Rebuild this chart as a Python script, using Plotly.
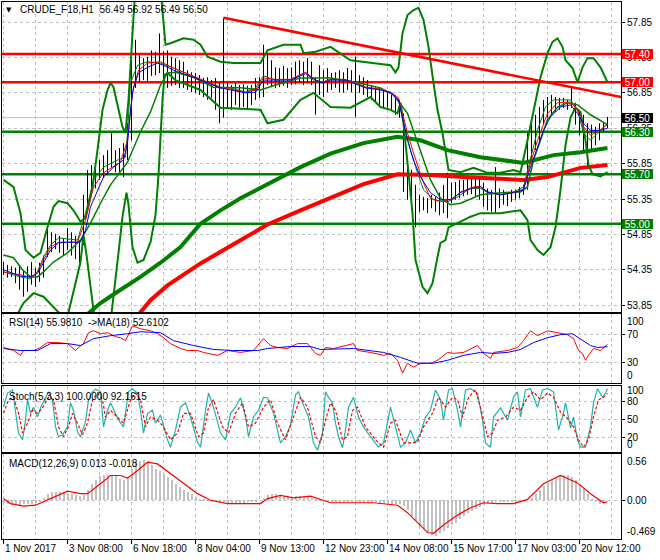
import plotly.graph_objects as go
from plotly.subplots import make_subplots

FONT = "Liberation Sans, Arial, sans-serif"
GREEN = "#008000"
RED = "#FF0000"
BLUE = "#0000FF"
GRID = "#C0C0C0"

# ---------------- time axis (bar index) ----------------
label_bars = [0, 32, 64, 96, 128, 160, 192, 224, 256, 288]
label_texts = ["1 Nov 2017", "3 Nov 08:00", "6 Nov 18:00", "8 Nov 04:00", "9 Nov 13:00",
               "12 Nov 23:00", "14 Nov 08:00", "15 Nov 17:00", "17 Nov 03:00", "20 Nov 12:00"]
minor_grid_bars = [16, 48, 80, 112, 144, 176, 208, 240, 272, 304]

# ---------------- price bars: (bar, high, low) ----------------
bars = [
    (0, 54.46, 54.28), (2, 54.42, 54.24), (4, 54.40, 54.25), (6, 54.38, 54.16), (8, 54.42, 54.07),
    (10, 54.35, 53.97), (12, 54.40, 54.04), (14, 54.46, 54.14), (16, 54.38, 54.11), (18, 54.45, 54.18),
    (20, 54.55, 54.24), (22, 54.98, 54.53), (24, 54.88, 54.60), (26, 54.86, 54.64), (28, 54.83, 54.59),
    (30, 54.80, 54.55), (32, 54.94, 54.63), (34, 54.88, 54.55), (36, 54.83, 54.50), (38, 54.77, 54.45),
    (40, 55.41, 54.70), (42, 55.76, 55.19), (44, 55.83, 55.41), (46, 55.86, 55.50), (48, 55.90, 55.62),
    (50, 55.97, 55.65), (52, 56.04, 55.69), (54, 56.28, 55.79), (56, 56.04, 55.73), (58, 56.07, 55.73),
    (60, 56.14, 55.66), (62, 56.42, 55.90), (64, 57.31, 56.18), (66, 57.60, 56.92), (68, 57.38, 57.00),
    (70, 57.34, 57.03), (72, 57.36, 57.00), (74, 57.45, 57.09), (76, 57.43, 57.10), (78, 57.69, 57.13),
    (80, 57.43, 56.97), (82, 57.45, 56.92), (84, 57.36, 56.95), (86, 57.34, 56.96), (88, 57.31, 56.92),
    (90, 57.29, 56.92), (92, 57.17, 56.89), (94, 57.14, 56.86), (96, 57.13, 56.85), (98, 57.10, 56.82),
    (100, 57.06, 56.79), (102, 57.07, 56.75), (104, 57.03, 56.78), (106, 57.06, 56.61), (108, 57.00, 56.42),
    (110, 57.91, 56.50), (112, 57.00, 56.64), (114, 56.96, 56.61), (116, 56.99, 56.68), (118, 56.96, 56.64),
    (120, 56.97, 56.65), (122, 56.95, 56.61), (124, 56.96, 56.68), (126, 57.06, 56.75), (128, 57.07, 56.78),
    (130, 57.53, 56.79), (132, 57.41, 56.96), (134, 57.31, 56.93), (136, 57.21, 56.92), (138, 57.20, 56.93),
    (140, 57.23, 56.95), (142, 57.20, 56.92), (144, 57.21, 56.96), (146, 57.29, 56.97), (148, 57.31, 57.00),
    (150, 57.29, 56.96), (152, 57.34, 56.99), (154, 57.29, 56.96), (156, 57.07, 56.54), (158, 57.24, 56.82),
    (160, 57.17, 56.79), (162, 57.20, 56.86), (164, 57.13, 56.89), (166, 57.14, 56.92), (168, 57.17, 56.86),
    (170, 57.14, 56.85), (172, 57.20, 56.89), (174, 57.17, 56.86), (176, 57.36, 56.51), (178, 57.10, 56.85),
    (180, 57.07, 56.82), (182, 57.03, 56.79), (184, 56.96, 56.75), (186, 56.93, 56.71), (188, 56.92, 56.68),
    (190, 56.89, 56.65), (192, 56.86, 56.64), (194, 56.82, 56.61), (196, 56.79, 56.54), (198, 56.75, 56.50),
    (200, 56.56, 55.45), (202, 55.90, 55.34), (204, 55.76, 55.19), (206, 55.55, 54.95), (208, 55.41, 55.17),
    (210, 55.38, 55.19), (212, 55.36, 55.15), (214, 55.41, 55.22), (216, 55.38, 55.17), (218, 55.44, 55.12),
    (220, 55.55, 55.15), (222, 55.72, 55.08), (224, 55.58, 55.29), (226, 55.59, 55.34), (228, 55.62, 55.36),
    (230, 55.62, 55.39), (232, 55.65, 55.41), (234, 55.67, 55.42), (236, 55.65, 55.39), (238, 55.66, 55.34),
    (240, 55.58, 55.24), (242, 55.50, 55.19), (244, 55.48, 55.17), (246, 55.80, 55.15), (248, 55.50, 55.22),
    (250, 55.48, 55.27), (252, 55.45, 55.25), (254, 55.48, 55.31), (256, 55.48, 55.34), (258, 55.52, 55.36),
    (260, 55.55, 55.41), (262, 56.28, 55.48), (264, 56.47, 55.90), (266, 56.54, 56.04), (268, 56.65, 56.18),
    (270, 56.75, 56.40), (272, 56.79, 56.50), (274, 56.82, 56.54), (276, 56.79, 56.58), (278, 56.78, 56.61),
    (280, 56.78, 56.64), (282, 56.75, 56.61), (284, 56.92, 56.64), (286, 56.71, 56.40), (288, 56.61, 56.25),
    (290, 56.54, 56.04), (292, 56.42, 55.79), (294, 56.40, 56.04), (296, 56.37, 56.11), (298, 56.42, 56.18),
    (300, 56.44, 56.30), (302, 56.51, 56.35),
]

# ---------------- moving averages (bar, price) ----------------
blue_ma = [(0, 54.35), (8.5, 54.26), (13.5, 54.25), (17, 54.30), (20, 54.45), (23.5, 54.63), (27.5, 54.73),
           (32, 54.74), (38.5, 54.74), (41, 54.91), (43.5, 55.24), (47, 55.48), (50, 55.66), (55, 55.80),
           (60, 55.90), (62, 56.14), (63.5, 56.61), (65, 56.93), (67.5, 57.13), (72, 57.21), (77, 57.27),
           (80, 57.24), (85, 57.17), (92, 57.10), (98.5, 57.03), (105, 56.96), (108.5, 56.92), (113.5, 56.89),
           (121, 56.85), (126, 56.86), (130, 57.03), (136, 57.03), (143.5, 57.03), (151, 57.12), (156, 57.03),
           (159.5, 56.99), (163.5, 57.03), (171, 57.03), (176, 56.97), (181, 56.92), (188.5, 56.89),
           (193.5, 56.85), (197.5, 56.75), (199.5, 56.51), (202, 56.18), (205, 55.90), (208.5, 55.66),
           (213.5, 55.44), (218.5, 55.34), (223.5, 55.34), (228.5, 55.44), (235, 55.51), (238.5, 55.52),
           (242, 55.45), (248.5, 55.41), (255, 55.44), (260, 55.48), (263.5, 55.80), (267, 56.08),
           (270, 56.32), (273.5, 56.51), (278.5, 56.65), (283.5, 56.68), (287, 56.56), (290, 56.42),
           (293.5, 56.32), (298.5, 56.32), (302, 56.35)]
red_ma = [(0, 54.32), (8.5, 54.28), (13.5, 54.24), (17, 54.32), (20, 54.49), (23.5, 54.67), (27.5, 54.74),
          (37, 54.74), (41, 55.05), (45, 55.52), (50, 55.72), (58.5, 55.87), (62, 56.18), (64.5, 56.85),
          (67.5, 57.17), (72, 57.27), (78.5, 57.29), (85, 57.20), (92, 57.12), (98.5, 57.04), (105, 56.97),
          (108.5, 56.93), (113.5, 56.90), (121, 56.86), (126, 56.89), (130, 57.06), (136, 57.04),
          (143.5, 57.04), (151, 57.14), (156, 57.03), (159.5, 57.00), (163.5, 57.04), (171, 57.04),
          (176, 56.99), (181, 56.93), (188.5, 56.90), (193.5, 56.86), (197.5, 56.78), (199.5, 56.56),
          (202, 56.28), (205, 56.00), (210, 55.58), (213.5, 55.36), (218.5, 55.31), (225, 55.36),
          (228.5, 55.45), (235, 55.52), (238.5, 55.53), (242, 55.45), (248.5, 55.41), (255, 55.44),
          (260, 55.49), (263.5, 55.86), (267, 56.18), (272, 56.56), (277, 56.71), (283.5, 56.72),
          (287, 56.61), (290, 56.37), (293.5, 56.25), (297, 56.30), (302, 56.40)]
green_ma = [(0, 54.32), (8.5, 54.25), (13.5, 54.22), (17, 54.33), (20, 54.53), (23.5, 54.70), (27.5, 54.80),
            (37, 54.77), (41, 55.15), (45, 55.62), (50, 55.80), (57, 55.90), (61, 55.94), (62, 56.28),
            (63.5, 56.99), (67, 57.24), (72, 57.29), (78.5, 57.27), (85, 57.20), (92, 57.12), (98.5, 57.03),
            (105, 56.96), (108.5, 56.92), (113.5, 56.92), (121, 56.86), (126, 56.92), (130, 57.09),
            (136, 57.03), (143.5, 57.04), (151, 57.14), (156, 57.00), (159.5, 57.00), (163.5, 57.04),
            (171, 57.03), (176, 57.00), (181, 56.93), (188.5, 56.90), (193.5, 56.85), (197.5, 56.75),
            (200, 56.42), (203.5, 56.04), (207, 55.72), (210, 55.48), (215, 55.34), (222, 55.31),
            (227, 55.38), (233.5, 55.50), (238.5, 55.50), (242, 55.44), (248.5, 55.41), (255, 55.45),
            (260, 55.52), (263.5, 55.94), (267, 56.32), (271, 56.65), (275, 56.75), (283.5, 56.75),
            (287, 56.61), (290, 56.28), (293.5, 56.18), (297, 56.28), (302, 56.42)]
ma_100 = [(41, 53.70), (48.5, 53.88), (57, 54.04), (68.5, 54.25), (78.5, 54.45), (88.5, 54.67), (98.5, 55.00),
          (108.5, 55.19), (118.5, 55.36), (132, 55.56), (148.5, 55.80), (163.5, 55.99), (180, 56.14),
          (197, 56.23), (208.5, 56.18), (222, 56.04), (238.5, 55.94), (260, 55.86), (275, 55.97),
          (288.5, 56.01), (302, 56.07)]
ma_200 = [(67, 53.70), (73.5, 53.92), (82, 54.13), (98.5, 54.44), (115, 54.71), (132, 54.99), (148.5, 55.19),
          (163.5, 55.37), (180, 55.56), (197, 55.70), (213.5, 55.69), (230, 55.66), (247, 55.64),
          (260, 55.62), (272, 55.66), (280, 55.73), (288.5, 55.79), (302, 55.83)]

# ---------------- Bollinger bands (bar, price) ----------------
bb_upper = [(0, 55.62), (5, 55.52), (8.5, 55.15), (11, 54.63), (15, 54.52), (18.5, 54.59), (22, 54.95),
            (25, 55.24), (27.5, 55.32), (32, 55.29), (35, 55.19), (38.5, 55.03), (41, 55.08), (44.5, 55.52),
            (47, 56.04), (49.5, 56.61), (52, 56.89), (53.5, 56.99), (55, 56.93), (57.5, 56.61), (59.5, 56.37),
            (61, 56.28), (62.5, 56.75), (64.5, 57.69), (66.5, 58.58), (71, 59.29), (76, 59.01), (79, 58.16),
            (81, 57.53), (83.5, 57.55), (90, 57.62), (95, 57.60), (98.5, 57.53), (102, 57.36), (108.5, 57.29),
            (115, 57.27), (128.5, 57.27), (132, 57.45), (140, 57.53), (148.5, 57.53), (150, 57.41),
            (156, 57.43), (163.5, 57.50), (173.5, 57.31), (183.5, 57.27), (193.5, 57.24), (196, 57.14),
            (197.5, 57.21), (199.5, 57.69), (202, 57.95), (205, 58.02), (207.5, 58.05), (210, 57.88),
            (212.5, 57.50), (215, 56.99), (217, 56.61), (219.5, 56.28), (221, 56.00), (222.5, 55.76),
            (228.5, 55.73), (235, 55.79), (242, 55.72), (248.5, 55.72), (255, 55.76), (258.5, 55.73),
            (262, 56.18), (265, 56.61), (268.5, 57.07), (272, 57.41), (274.5, 57.57), (277, 57.62),
            (279.5, 57.50), (281, 57.31), (284.5, 57.20), (287, 57.00), (289.5, 57.21), (292, 57.34),
            (295, 57.34), (298.5, 57.21), (302, 57.00)]
bb_lower = [(0, 53.50), (6, 53.67), (10, 53.88), (15, 54.02), (20, 53.97), (27.5, 53.75), (30, 53.57),
            (32.5, 53.75), (36, 54.16), (38.5, 54.46), (40, 54.84), (41.5, 54.56), (45, 53.78), (48.5, 53.08),
            (52.5, 53.36), (55, 54.02), (57.5, 54.59), (59.5, 55.10), (61.5, 55.44), (62.5, 55.27),
            (64.5, 54.67), (67, 54.45), (70, 54.49), (73.5, 54.74), (76, 55.12), (77.5, 55.69), (78.5, 56.25),
            (79.5, 56.75), (80.5, 57.10), (82, 57.13), (86, 57.03), (98.5, 56.89), (108.5, 56.64),
            (128.5, 56.61), (132, 56.42), (140, 56.47), (148.5, 56.75), (155, 56.85), (163.5, 56.65),
            (173.5, 56.64), (183.5, 56.79), (188.5, 56.65), (193.5, 56.61), (197, 56.56), (198.5, 56.71),
            (200, 56.42), (202.5, 55.72), (204.5, 55.15), (206, 54.49), (209.5, 54.11), (212, 54.02),
            (214.5, 54.16), (217, 54.53), (218.5, 54.73), (221, 54.77), (222.5, 54.95), (228.5, 55.03),
            (233.5, 55.10), (238.5, 55.15), (248.5, 55.15), (258.5, 55.19), (262, 55.05), (263.5, 54.77),
            (267, 54.63), (270, 54.56), (273.5, 54.67), (276, 54.95), (278.5, 55.48), (281, 56.11),
            (283.5, 56.50), (286, 56.64), (288.5, 56.58), (291, 56.18), (292.5, 55.83), (294.5, 55.70),
            (298.5, 55.67), (302, 55.73)]
bb_mid = [(0, 54.56), (5, 54.52), (9.5, 54.35), (13.5, 54.25), (17, 54.25), (20, 54.32), (25, 54.46),
          (32, 54.59), (38.5, 54.77), (43.5, 55.01), (48.5, 55.29), (53.5, 55.55), (62, 55.87), (68.5, 56.30),
          (73.5, 56.58), (78.5, 56.96), (82, 57.13), (86, 57.14), (95, 57.07), (105, 56.93), (118.5, 56.92),
          (128.5, 56.89), (136, 56.96), (148.5, 57.06), (163.5, 57.06), (176, 57.00), (188.5, 56.92),
          (195, 56.82), (202, 56.56), (208.5, 56.04), (213.5, 55.62), (218.5, 55.36), (223.5, 55.27),
          (228.5, 55.29), (238.5, 55.41), (248.5, 55.44), (258.5, 55.45), (262, 55.52), (265, 55.90),
          (268.5, 56.18), (272, 56.47), (277, 56.65), (282, 56.71), (287, 56.68), (293.5, 56.54),
          (302, 56.40)]

# ---------------- levels ----------------
red_levels = [57.40, 57.00]
green_levels = [56.30, 55.70, 55.00]
last_price = 56.50
trend_bars = [110, 309]
trend_prices = [57.91, 56.79]
price_ticks = [53.85, 54.35, 54.85, 55.35, 55.85, 56.35, 56.85, 57.35, 57.85]

# ---------------- RSI (bar, value) ----------------
rsi = [(0, 51.4), (5, 47.1), (8.5, 40.0), (10, 47.1), (15, 47.1), (18.5, 51.4), (22, 58.6), (27, 58.6),
       (32, 57.1), (34.5, 51.4), (36, 47.1), (37.5, 51.4), (40, 57.1), (42.5, 72.9), (45, 75.7), (48.5, 71.4),
       (52, 72.9), (56, 67.1), (58.5, 65.7), (61, 61.4), (62.5, 71.4), (64.5, 82.9), (68.5, 78.6),
       (73.5, 75.7), (77, 71.4), (80, 65.7), (83.5, 57.1), (88.5, 50.0), (92, 47.1), (97, 47.1), (100, 44.3),
       (107, 40.0), (112, 47.1), (118.5, 44.3), (125, 47.1), (130, 64.3), (133.5, 54.3), (137, 51.4),
       (142, 50.0), (147, 57.1), (152, 57.1), (156, 42.9), (158.5, 40.0), (161, 51.4), (165, 50.0),
       (175, 57.1), (177, 47.1), (183.5, 44.3), (190, 40.0), (193.5, 42.9), (197, 32.9), (199.5, 14.3),
       (202, 28.6), (205, 22.9), (208.5, 28.6), (213.5, 28.6), (217, 32.9), (222, 44.3), (225, 42.9),
       (230, 44.3), (237, 54.3), (240, 42.9), (243.5, 35.7), (245, 44.3), (252, 47.1), (257, 51.4),
       (260, 61.4), (263.5, 75.7), (267, 68.6), (272, 75.7), (277, 72.9), (282, 70.0), (285, 64.3),
       (287.5, 47.1), (289.5, 42.9), (291, 32.9), (292.5, 40.0), (295, 50.0), (298.5, 47.1), (302, 56.0)]
rsi_ma = [(0, 50.0), (8.5, 47.1), (17, 47.1), (23.5, 57.1), (32, 57.1), (38.5, 54.3), (45, 64.3), (53.5, 68.6),
          (62, 71.4), (68.5, 74.3), (78.5, 72.9), (85, 61.4), (95, 54.3), (105, 48.6), (115, 47.1),
          (127, 47.1), (132, 50.0), (143.5, 52.9), (153.5, 52.9), (158.5, 48.6), (175, 50.0), (190, 44.3),
          (198.5, 37.1), (207, 28.6), (215, 28.6), (222, 32.9), (230, 40.0), (238.5, 44.3), (245, 42.9),
          (252, 44.3), (258.5, 48.6), (265, 58.6), (272, 65.7), (278.5, 70.0), (284.5, 71.4), (288.5, 64.3),
          (293.5, 54.3), (297, 51.4), (302, 52.6)]

# ---------------- Stochastic (bar, value) ----------------
stoch_k = [(0, 70), (2, 93), (4.5, 98), (6, 65), (7.5, 28), (9.5, 17), (11, 49), (12, 82), (13.5, 60), (15, 70),
           (17, 54), (18.5, 69), (21, 86), (22.5, 95), (24.5, 82), (26, 38), (27.5, 22), (29.5, 25), (32, 38),
           (33.5, 77), (35, 65), (37, 30), (38.5, 22), (41, 46), (42.5, 82), (44.5, 95), (46, 99), (48.5, 95),
           (50, 38), (52, 65), (53.5, 77), (56, 60), (57.5, 49), (60, 38), (62.5, 95), (64.5, 100), (67, 93),
           (68.5, 65), (70, 28), (72, 60), (74.5, 65), (76, 44), (78.5, 57), (82, 17), (83.5, 5), (86, 33),
           (88.5, 70), (91, 77), (93.5, 54), (97, 13), (98.5, 5), (101, 65), (102.5, 93), (105, 70),
           (108.5, 28), (111, 17), (113.5, 60), (116, 70), (118.5, 85), (121, 54), (122.5, 22), (125, 54),
           (127.5, 65), (130, 86), (132, 85), (135, 60), (138.5, 12), (141, 22), (143.5, 41), (146, 90),
           (147.5, 95), (149.5, 77), (152.5, 54), (155, 12), (157, 0), (159.5, 28), (161, 95), (162.5, 86),
           (164.5, 77), (166, 44), (167.5, 22), (169.5, 4), (171, 33), (172.5, 70), (175, 86), (177.5, 54),
           (180, 38), (183.5, 22), (187.5, 5), (190, 12), (193.5, 70), (196, 38), (198.5, 5), (201, 12),
           (203.5, 33), (206, 12), (208.5, 28), (211, 54), (213.5, 65), (216, 98), (218.5, 82), (220, 49),
           (222.5, 98), (224.5, 100), (227, 65), (228.5, 38), (231, 98), (233.5, 100), (237, 93), (239.5, 49),
           (241, 12), (243.5, 5), (245, 54), (248.5, 69), (252, 49), (255, 86), (257, 95), (258.5, 54),
           (261, 98), (263.5, 100), (267, 70), (269.5, 98), (272, 100), (275, 95), (277.5, 33), (280, 60),
           (281, 77), (282.5, 54), (283.5, 36), (285, 54), (287, 17), (288.5, 5), (291, 5), (293.5, 38),
           (295, 77), (297, 100), (299.5, 86), (301, 93), (302, 100)]
stoch_d = [(0, 60), (2.5, 82), (5, 86), (7.5, 60), (9.5, 28), (12, 44), (14.5, 65), (17, 60), (19.5, 69),
           (22.5, 86), (25, 82), (27.5, 38), (30, 22), (32.5, 38), (34.5, 60), (37, 44), (39.5, 25), (42, 44),
           (44.5, 82), (47, 93), (49.5, 82), (51, 54), (53.5, 65), (57, 54), (60, 44), (63.5, 82), (66, 93),
           (68.5, 82), (71, 38), (73.5, 54), (77, 49), (80, 38), (83.5, 17), (87, 28), (90, 60), (93.5, 60),
           (97.5, 22), (100, 28), (102.5, 70), (105, 82), (109.5, 38), (112.5, 28), (116, 60), (119.5, 77),
           (122.5, 38), (126, 44), (130, 70), (133.5, 82), (137, 44), (141, 17), (145, 54), (148.5, 86),
           (152, 70), (156, 22), (158.5, 12), (161, 49), (163.5, 77), (166, 65), (169.5, 17), (172, 22),
           (174.5, 65), (177, 70), (181, 38), (186, 17), (190, 5), (193.5, 44), (196, 49), (200, 12),
           (203.5, 12), (207, 13), (210, 38), (214.5, 60), (217.5, 86), (221, 70), (224.5, 86), (227, 82),
           (229.5, 54), (232.5, 86), (236, 98), (238.5, 70), (242, 22), (244.5, 28), (247, 49), (251, 54),
           (255, 70), (258.5, 65), (262, 86), (265, 95), (268.5, 82), (272, 93), (275, 86), (278.5, 62),
           (282, 52), (285, 38), (287.5, 17), (290, 5), (292.5, 17), (295, 54), (297.5, 82), (300, 86),
           (302, 92.2)]

# ---------------- MACD ----------------
macd_hist = [-0.03, -0.05, -0.06, -0.06, -0.06, -0.05, -0.05, -0.04, -0.03, -0.01,
             0.03, 0.08, 0.10, 0.10, 0.10, 0.09, 0.08, 0.07, 0.06, 0.05,
             0.06, 0.12, 0.20, 0.25, 0.29, 0.31, 0.31, 0.30, 0.29, 0.26,
             0.25, 0.27, 0.38, 0.46, 0.48, 0.49, 0.47, 0.43, 0.38, 0.35,
             0.32, 0.28, 0.24, 0.20, 0.16, 0.13, 0.10, 0.07, 0.04, 0.02,
             0.01, 0.00, -0.01, -0.02, -0.03, -0.02, -0.03, -0.03, -0.03, -0.03,
             -0.03, -0.02, -0.02, -0.01, 0.00, 0.03, 0.06, 0.07, 0.07, 0.06,
             0.05, 0.05, 0.04, 0.05, 0.05, 0.04, 0.05, 0.03, 0.01, 0.02,
             0.00, -0.01, -0.01, -0.01, -0.01, -0.01, -0.01, -0.01, -0.01, -0.01,
             -0.01, -0.01, -0.01, -0.02, -0.03, -0.04, -0.04, -0.04, -0.04, -0.05,
             -0.07, -0.12, -0.19, -0.25, -0.31, -0.35, -0.38, -0.42, -0.43, -0.40,
             -0.37, -0.33, -0.30, -0.27, -0.23, -0.19, -0.16, -0.13, -0.11, -0.08,
             -0.06, -0.04, -0.03, -0.02, -0.02, -0.02, -0.02, -0.02, -0.02, -0.02,
             -0.01, 0.00, 0.03, 0.08, 0.13, 0.17, 0.21, 0.24, 0.27, 0.29,
             0.30, 0.30, 0.28, 0.24, 0.20, 0.15, 0.08, 0.02, -0.02, -0.04,
             -0.02, 0.00, 0.013]
macd_signal = [(0, 0.02), (3.5, -0.04), (10, -0.07), (16, -0.06), (23.5, 0.02), (32, 0.11), (38.5, 0.08),
               (42, 0.08), (48.5, 0.20), (53.5, 0.30), (58.5, 0.30), (62, 0.27), (65, 0.32), (72, 0.46),
               (77, 0.44), (83.5, 0.32), (90, 0.20), (97, 0.08), (103.5, 0.00), (112, -0.04), (128.5, -0.04),
               (132, 0.02), (138.5, 0.06), (145, 0.03), (153.5, 0.05), (158.5, 0.01), (163.5, -0.03),
               (185, -0.03), (197, -0.06), (202, -0.15), (207, -0.27), (212, -0.39), (215, -0.40),
               (220, -0.30), (227, -0.18), (233.5, -0.09), (240, -0.03), (247, -0.04), (255, -0.04),
               (262, 0.01), (270, 0.20), (278.5, 0.30), (287, 0.21), (293.5, 0.08), (300, -0.03),
               (302, -0.018)]

# =====================================================================
W, H = 660, 560
PL, PR = 2, 621              # plot area left / right, px
PT, PB = 2, 539              # plot area top / bottom, px
PW, PH = PR - PL, PB - PT
X_RANGE = [-0.75, 308.75]

def dom(top_px, bot_px):
    return [(PB - bot_px) / PH, (PB - top_px) / PH]

def paper_x(px):
    return (px - PL) / PW

def paper_y(py):
    return (PB - py) / PH

fig = make_subplots(rows=4, cols=1, shared_xaxes=True, vertical_spacing=0.0)

def add_line(points, color, width, row, dash=None):
    fig.add_trace(go.Scatter(x=[p[0] for p in points], y=[p[1] for p in points], mode="lines",
                             line=dict(color=color, width=width, dash=dash),
                             hoverinfo="skip", showlegend=False), row=row, col=1)

def add_level(value, color, width):
    fig.add_trace(go.Scatter(x=X_RANGE, y=[value, value], mode="lines",
                             line=dict(color=color, width=width),
                             hoverinfo="skip", showlegend=False), row=1, col=1)

# horizontal levels (drawn first, below everything)
add_level(last_price, GRID, 1)
for lv in red_levels:
    add_level(lv, RED, 2.5)
for lv in green_levels:
    add_level(lv, GREEN, 2.5)

# price bars
bx, by = [], []
for b, hi, lo in bars:
    bx += [b, b, None]
    by += [lo, hi, None]
fig.add_trace(go.Scatter(x=bx, y=by, mode="lines", line=dict(color="black", width=1),
                         hoverinfo="skip", showlegend=False), row=1, col=1)

add_line(ma_200, RED, 4, 1)
add_line(ma_100, GREEN, 4, 1)
add_line(bb_upper, GREEN, 2, 1)
add_line(bb_lower, GREEN, 2, 1)
add_line(bb_mid, GREEN, 1.5, 1)
add_line(green_ma, GREEN, 1, 1)
add_line(red_ma, RED, 1, 1)
add_line(blue_ma, BLUE, 1, 1)

# trend line
fig.add_trace(go.Scatter(x=trend_bars, y=trend_prices, mode="lines", line=dict(color=RED, width=2.5),
                         hoverinfo="skip", showlegend=False), row=1, col=1)

# RSI
add_line(rsi, RED, 1, 2)
add_line(rsi_ma, BLUE, 1, 2)
# Stochastic
add_line(stoch_k, "#20B2AA", 1.2, 3)
add_line(stoch_d, RED, 1.2, 3, dash="3px,2px")
# MACD
fig.add_trace(go.Bar(x=[b[0] for b in bars], y=macd_hist, width=1.0,
                     marker=dict(color="#C0C0C0", line=dict(width=0)),
                     hoverinfo="skip", showlegend=False), row=4, col=1)
add_line(macd_signal, RED, 1.2, 4)

# ---------------- axes ----------------
xcommon = dict(range=X_RANGE, showline=True, mirror=True, linecolor="black", linewidth=1,
               tickvals=label_bars, showticklabels=False, showgrid=True, gridcolor=GRID,
               griddash="3px,3px", gridwidth=1, zeroline=False, automargin=False,
               minor=dict(tickvals=minor_grid_bars, showgrid=True, gridcolor=GRID, griddash="3px,3px",
                          ticks=""))
for i in range(1, 5):
    fig.update_xaxes(**xcommon, row=i, col=1)
fig.update_xaxes(ticks="outside", ticklen=4, tickcolor="black", row=4, col=1)

ycommon = dict(side="right", showline=True, mirror=True, linecolor="black", linewidth=1,
               showgrid=True, gridcolor=GRID, griddash="3px,3px", zeroline=False,
               ticks="outside", ticklen=3, tickcolor="black", automargin=False,
               tickfont=dict(family=FONT, size=10, color="black"), fixedrange=True)
fig.update_yaxes(**ycommon)
fig.update_yaxes(range=[53.754, 58.133], tickvals=price_ticks, ticktext=[f"{v:.2f}" for v in price_ticks],
                 row=1, col=1)
fig.update_yaxes(range=[0, 100], tickvals=[30, 70], ticktext=["30", "70"], row=2, col=1)
fig.update_yaxes(range=[-2.8, 104.4], tickvals=[20, 50, 80], ticktext=["20", "50", "80"], row=3, col=1)
fig.update_yaxes(range=[-0.469, 0.56], tickvals=[0], ticktext=["0.00"], row=4, col=1)

fig.update_layout(
    width=W, height=H, autosize=False,
    margin=dict(l=PL, r=W - PR, t=PT, b=H - PB, pad=0),
    paper_bgcolor="white", plot_bgcolor="white", showlegend=False, bargap=0,
    font=dict(family=FONT, size=10, color="black"),
    yaxis=dict(domain=dom(2, 312)), yaxis2=dict(domain=dom(314, 383)),
    yaxis3=dict(domain=dom(386, 452)), yaxis4=dict(domain=dom(454, 539)),
)

# ---------------- level price boxes ----------------
box_specs = [(lv, RED) for lv in red_levels] + [(last_price, "black")] + [(lv, GREEN) for lv in green_levels]
for lv, col in box_specs:
    fig.add_annotation(xref="paper", yref="y", x=paper_x(622), y=lv, text=f"{lv:.2f}", showarrow=False,
                       xanchor="left", yanchor="middle", bgcolor=col, borderpad=0, borderwidth=0,
                       width=31, height=10, align="center",
                       font=dict(family=FONT, size=10, color="white"))

# ---------------- edge labels on sub panels ----------------
edge = [("y2", 100, "100", "top"), ("y2", 0, "0", "bottom"),
        ("y3", 100, "100", "middle"), ("y3", -2.8, "0", "bottom"),
        ("y4", 0.56, "0.56", "top"), ("y4", -0.469, "-0.469", "bottom")]
for yr, v, t, anc in edge:
    fig.add_annotation(xref="paper", yref=yr, x=paper_x(625), y=v, text=t, showarrow=False,
                       xanchor="left", yanchor=anc, yshift=-2 if anc == "middle" else 0,
                       font=dict(family=FONT, size=10, color="black"))

# ---------------- panel captions ----------------
NB = "\u00a0"
captions = [
    (18, 10, f"CRUDE_F18,H1{NB}{NB}56.49 56.92 56.49 56.50"),
    (7, 322, f"RSI(14) 55.9810{NB}{NB}->MA(18) 52.6102"),
    (7, 397, "Stoch(5,3,3) 100.0000 92.1615"),
    (7, 463, "MACD(12,26,9) 0.013 -0.018"),
]
for px, py, t in captions:
    fig.add_annotation(xref="paper", yref="paper", x=paper_x(px), y=paper_y(py), text=t, showarrow=False,
                       xanchor="left", yanchor="middle", font=dict(family=FONT, size=10, color="black"))
fig.add_annotation(xref="paper", yref="paper", x=paper_x(9), y=paper_y(10), text="\u25BC", showarrow=False,
                   xanchor="center", yanchor="middle", font=dict(family="DejaVu Sans", size=7, color="black"))

# ---------------- time labels ----------------
for b, t in zip(label_bars, label_texts):
    fig.add_annotation(xref="x4", yref="paper", x=b, y=0, text=t, showarrow=False, xanchor="left",
                       yanchor="top", yshift=-2, xshift=-1, font=dict(family=FONT, size=10, color="black"))

fig.write_html("out.html", config={"displayModeBar": False},
               post_script="document.body.style.margin='0px';document.body.style.overflow='hidden';")
